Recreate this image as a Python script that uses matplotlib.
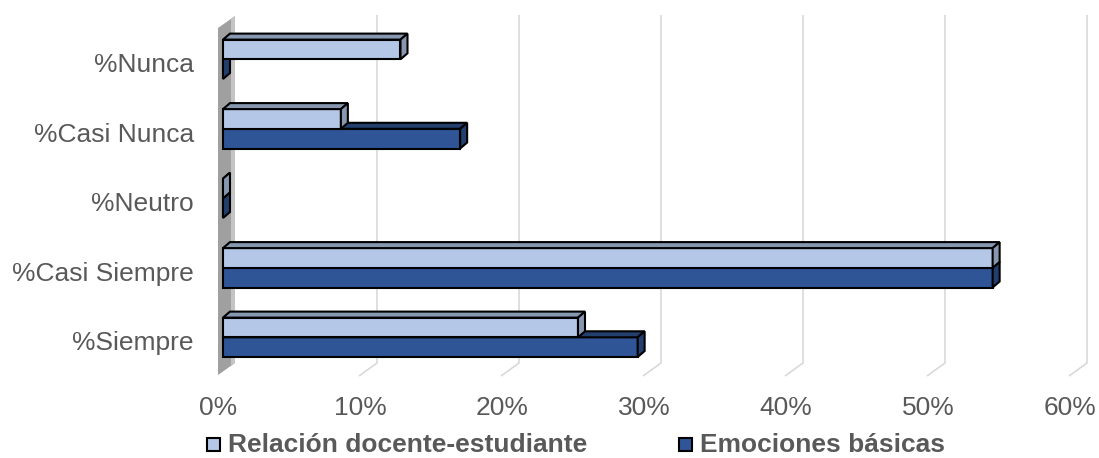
import matplotlib
matplotlib.use('Agg')
import matplotlib.pyplot as plt
from matplotlib.patches import Polygon, Rectangle

# Data (percent of answers)
categories = ['%Nunca', '%Casi Nunca', '%Neutro', '%Casi Siempre', '%Siempre']
relacion = [12.5, 8.3, 0.0, 54.2, 25.0]
emociones = [0.0, 16.7, 0.0, 54.2, 29.2]
series_names = ['Relación docente-estudiante', 'Emociones básicas']
ticks = [0, 10, 20, 30, 40, 50, 60]
tick_labels = ['0%', '10%', '20%', '30%', '40%', '50%', '60%']

# Colours: front, top/side
light = ('#B4C7E7', '#8797B0')
dark = ('#2F5597', '#223F6E')
text_col = '#595959'
grid_col = '#D9D9D9'

plt.rcParams['font.family'] = ['Liberation Sans', 'DejaVu Sans']

W, H = 1099, 458
fig = plt.figure(figsize=(W / 100, H / 100), dpi=100)
ax = fig.add_axes([0, 0, 1, 1])
ax.axis('off')

# scale: pixels per percent and per category
sx = 14.2
sy = 69.5
x0_px, y0_px = 223, 59.3
ax.set_xlim(-x0_px / sx, (W - x0_px) / sx)
ax.set_ylim((H - y0_px) / sy, -y0_px / sy)


def px(x, y):
    return ((x - x0_px) / sx, (y - y0_px) / sy)


# 3D depth offsets (in data units)
bdx, bdy = 7 / sx, -6 / sy       # bars
gdx, gdy = 18 / sx, -13 / sy     # floor / grid depth
bh = 19.7 / sy                   # bar thickness
lw = 1.5

# gridlines (back wall + floor)
gf = -6 / sx   # front of floor at 0%
_, ytop = px(0, 15)
_, yfl = px(0, 376)
for t in ticks[1:]:
    xf = t + gf
    xb = xf + gdx
    ax.plot([xf, xb, xb], [yfl, yfl + gdy, ytop], color=grid_col, lw=1.2,
            zorder=1, solid_capstyle='butt')

# side wall
wl, wr = px(218, 0)[0], px(235, 0)[0]
wdy = -12 / sy
_, wtop = px(0, 28)
_, wbot = px(0, 375)
ax.add_patch(Polygon([(wl, wtop), (wr, wtop + wdy), (wr, wbot + wdy), (wl, wbot)],
                     closed=True, fc='#A0A0A0', ec='none', zorder=1.5))
wl2 = px(231, 0)[0]
k = (wl2 - wl) / (wr - wl)
ax.add_patch(Polygon([(wl2, wtop + wdy * k), (wr, wtop + wdy),
                      (wr, wbot + wdy), (wl2, wbot + wdy * k)],
                     closed=True, fc='#C4C4C4', ec='none', zorder=1.6))

ypos = list(range(len(categories)))


def draw_series(vals, yoff, cols, z):
    ys = [y + yoff for y in ypos]
    ax.barh(ys, vals, height=bh, left=0, align='edge', color=cols[0],
            edgecolor='black', linewidth=lw, zorder=z)
    for v, yt in zip(vals, ys):
        yb = yt + bh
        top = [(0, yt), (v, yt), (v + bdx, yt + bdy), (bdx, yt + bdy)]
        side = [(v, yt), (v + bdx, yt + bdy), (v + bdx, yb + bdy), (v, yb)]
        for poly in (top, side):
            ax.add_patch(Polygon(poly, closed=True, fc=cols[1], ec='black',
                                 lw=lw, joinstyle='miter', zorder=z))


draw_series(emociones, 0, dark, 3)
draw_series(relacion, -bh, light, 4)

# category labels
for y, lab in zip(ypos, categories):
    ax.text(px(194, 0)[0], y + 6 / sy, lab, ha='right', va='center',
            fontsize=19, color=text_col)

# x tick labels
_, ylab = px(0, 408)
for t, lab in zip(ticks, tick_labels):
    ax.text(t - 5 / sx, ylab, lab, ha='center', va='center', fontsize=19,
            color=text_col)

# legend
_, yleg = px(0, 445)
for (mx, tx), name, cols in zip([(207, 228), (679, 700)], series_names,
                                 [light, dark]):
    mxd, myd = px(mx, 438)
    ax.add_patch(Rectangle((mxd, myd), 13 / sx, 13 / sy, fc=cols[0],
                           ec='black', lw=lw, zorder=5))
    ax.text(px(tx, 0)[0], yleg, name, ha='left', va='center', fontsize=19,
            fontweight='bold', color=text_col)

fig.savefig('out.png', dpi=100)
